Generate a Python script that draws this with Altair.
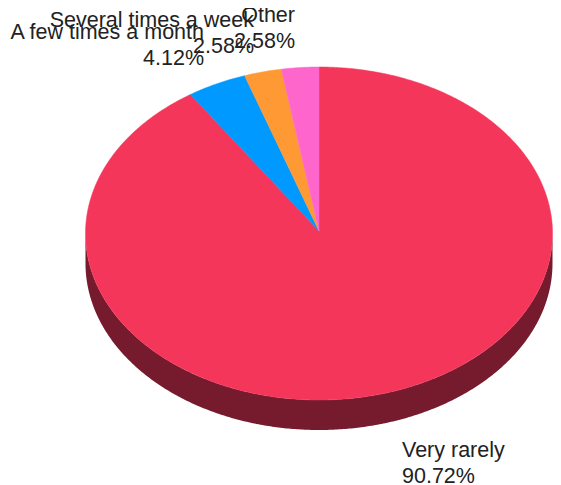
import math
import altair as alt
import pandas as pd

categories = ["Very rarely", "A few times a month", "Several times a week", "Other"]
shares = [90.72, 4.12, 2.58, 2.58]
colors = ["#F5365B", "#0099FF", "#FF9933", "#FF66CC"]
wall_color = "#761B2D"

# Geometry of the tilted pie, in page pixels. The page allows the drawing to reach
# x = 553, so the ellipse is a touch narrower than the reference's.
CX, CY, RX, RY, DEPTH = 319, 233.5, 233.5, 166.5, 30
APEX_Y = 231
W, H = 545, 477


def ex(deg):
    return CX + RX * math.sin(math.radians(deg))


def ey(deg):
    return CY - RY * math.cos(math.radians(deg))


rows = []
start = 0.0
for cat, share in zip(categories, shares):
    sweep = share * 3.6
    n = max(int(sweep * 2), 4)
    rows.append({"cat": cat, "i": 0, "x": CX, "y": APEX_Y})
    for k in range(n + 1):
        a = start + sweep * k / n
        rows.append({"cat": cat, "i": k + 1, "x": ex(a), "y": ey(a)})
    rows.append({"cat": cat, "i": n + 2, "x": CX, "y": APEX_Y})
    start += sweep
slices = pd.DataFrame(rows)

wall = pd.DataFrame(
    [{"x": ex(a / 2), "y": ey(a / 2), "y2": ey(a / 2) + DEPTH} for a in range(180, 541)]
).sort_values("x")

xs = alt.Scale(domain=[8, 8 + W], range=[0, W], nice=False, zero=False)
ys = alt.Scale(domain=[8, 8 + H], range=[0, H], nice=False, zero=False)

wall_layer = alt.Chart(wall).mark_area(color=wall_color, opacity=1).encode(
    x=alt.X("x:Q", scale=xs, axis=None),
    y=alt.Y("y:Q", scale=ys, axis=None),
    y2="y2:Q",
)

slice_layers = [
    alt.Chart(slices[slices["cat"] == cat])
    .mark_line(fill=col, stroke=col, strokeWidth=0.5, interpolate="linear")
    .encode(
        x=alt.X("x:Q", scale=xs, axis=None),
        y=alt.Y("y:Q", scale=ys, axis=None),
        order="i:Q",
    )
    for cat, col in zip(categories, colors)
]


def label(lines, px, py, align):
    return (
        alt.Chart(pd.DataFrame({"t": [lines]}))
        .mark_text(
            align=align, baseline="alphabetic", font="Liberation Sans", fontSize=21.5,
            lineHeight=25.5, color="#222222",
        )
        .encode(text="t:N", x=alt.value(px - 8), y=alt.value(py - 8))
    )


def text_lines(cat, share):
    return [cat, f"{share:.2f}%"]


labels = [
    label(text_lines(categories[1], shares[1]), 204, 39, "right"),
    label(text_lines(categories[2], shares[2]), 254, 27, "right"),
    label(text_lines(categories[3], shares[3]), 295, 22, "right"),
    label(text_lines(categories[0], shares[0]), 402, 457, "left"),
]

chart = alt.layer(wall_layer, *slice_layers, *labels).properties(
    width=W, height=H, padding=0, autosize=alt.AutoSizeParams(type="none"),
    background="white",
).configure_view(stroke=None)

chart.save("out.html", embed_options={"renderer": "svg", "actions": False})
